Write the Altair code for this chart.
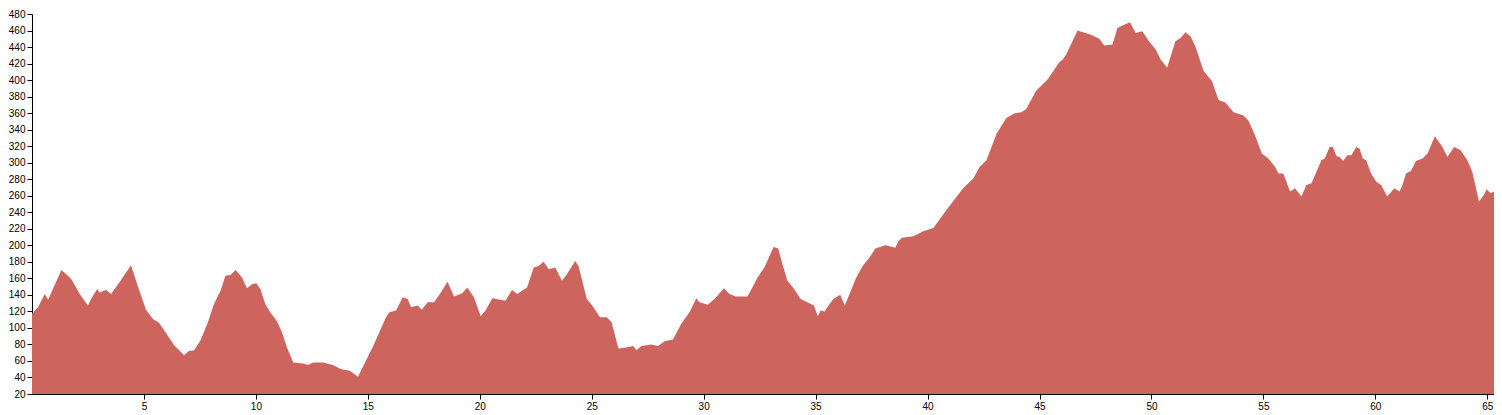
import altair as alt
import pandas as pd

km = [0.0, 0.27, 0.57, 0.72, 1.31, 1.53, 1.76, 2.13, 2.5, 2.64, 2.91, 3.01, 3.31, 3.53, 3.9, 4.42, 4.72,
      5.09, 5.39, 5.68, 6.05, 6.35, 6.64, 6.79, 7.01, 7.24, 7.53, 7.83, 8.13, 8.42, 8.64, 8.87, 9.09,
      9.38, 9.6, 9.83, 10.02, 10.2, 10.42, 10.64, 10.94, 11.16, 11.38, 11.67, 12.11, 12.33, 12.56, 13.0,
      13.44, 13.81, 14.19, 14.56, 14.85, 15.22, 15.52, 15.81, 15.96, 16.26, 16.56, 16.78, 16.93, 17.22,
      17.41, 17.67, 17.96, 18.26, 18.56, 18.7, 18.85, 19.22, 19.44, 19.74, 20.04, 20.26, 20.56, 21.15,
      21.44, 21.67, 22.11, 22.41, 22.63, 22.85, 23.08, 23.37, 23.67, 23.89, 24.26, 24.41, 24.78, 25.0,
      25.37, 25.67, 25.89, 26.19, 26.48, 26.85, 27.0, 27.22, 27.67, 27.96, 28.26, 28.63, 29.0, 29.37,
      29.67, 29.81, 30.19, 30.56, 30.9, 31.15, 31.44, 31.96, 32.41, 32.73, 33.12, 33.33, 33.52, 33.74,
      34.04, 34.33, 34.63, 34.92, 35.1, 35.22, 35.4, 35.6, 35.8, 36.1, 36.3, 36.5, 36.8, 37.1, 37.4,
      37.67, 38.11, 38.56, 38.7, 38.85, 39.37, 39.81, 40.26, 40.85, 41.59, 42.04, 42.33, 42.63, 43.08,
      43.52, 43.89, 44.19, 44.41, 44.85, 45.37, 45.89, 46.04, 46.19, 46.7, 47.3, 47.67, 47.89, 48.26,
      48.48, 48.78, 49.04, 49.3, 49.59, 49.89, 50.19, 50.41, 50.7, 51.07, 51.3, 51.52, 51.74, 51.96,
      52.33, 52.7, 53.0, 53.3, 53.67, 54.11, 54.33, 54.63, 54.93, 55.22, 55.52, 55.67, 55.89, 56.19,
      56.41, 56.7, 56.92, 57.15, 57.59, 57.74, 57.96, 58.1, 58.26, 58.41, 58.56, 58.75, 58.93, 59.15,
      59.3, 59.44, 59.59, 59.81, 60.04, 60.26, 60.53, 60.85, 61.08, 61.2, 61.37, 61.59, 61.81, 62.11,
      62.33, 62.66, 63.0, 63.22, 63.52, 63.81, 64.11, 64.33, 64.63, 64.85, 64.97, 65.15, 65.3]

elevation = [117, 125, 141, 134, 170, 165, 159, 141, 127, 135, 147, 143, 146, 141, 155, 176, 151,
             122, 111, 106, 91, 79, 71, 67, 72, 73, 85, 105, 129, 145, 163, 164, 170,
             161, 148, 153, 154, 147, 129, 119, 108, 95, 77, 58, 57, 55, 58, 58,
             55, 50, 48, 41, 57, 77, 95, 113, 119, 121, 137, 135, 125, 127,
             122, 131, 131, 143, 156, 147, 138, 142, 149, 137, 114, 121, 136, 133,
             146, 141, 149, 173, 175, 180, 171, 173, 157, 165, 181, 175, 135, 128,
             113, 113, 107, 75, 76, 78, 73, 78, 80, 78, 84, 86, 105, 119,
             136, 131, 128, 137, 148, 141, 138, 138, 161, 174, 198, 196, 177, 157,
             147, 135, 131, 127, 114, 121, 120, 128, 135, 140, 127, 140, 160, 175, 185,
             196, 200, 197, 205, 209, 211, 217, 221, 243, 269, 281, 295, 303, 335,
             354, 360, 361, 365, 387, 401, 422, 425, 431, 460, 455, 450, 442, 443,
             463, 467, 470, 457, 459, 447, 437, 425, 415, 447, 451, 458, 453, 441,
             411, 399, 376, 373, 361, 357, 351, 333, 311, 305, 295, 287, 287, 265,
             269, 259, 273, 275, 303, 305, 319, 319, 308, 307, 302, 309, 309, 319,
             317, 305, 303, 287, 277, 273, 259, 269, 265, 272, 287, 290, 302, 305,
             311, 332, 319, 307, 319, 315, 303, 289, 253, 261, 268, 263, 265]

x_ticks = [5, 10, 15, 20, 25, 30, 35, 40, 45, 50, 55, 60, 65]
y_ticks = list(range(20, 481, 20))

df = pd.DataFrame({"km": km, "elevation": elevation})

axis_style = dict(title=None, grid=False, tickSize=5, labelPadding=2,
                  domainColor="#000", tickColor="#000", labelColor="#000",
                  labelFontSize=10, labelFont="Liberation Sans",
                  domainWidth=1, labelFlush=False)

chart = alt.Chart(df).mark_area(color="#cd645d", interpolate="linear").encode(
    x=alt.X("km:Q",
            scale=alt.Scale(domain=[0, 65.3], nice=False, zero=False),
            axis=alt.Axis(values=x_ticks, **axis_style)),
    y=alt.Y("elevation:Q",
            scale=alt.Scale(domain=[20, 480], nice=False, zero=False),
            axis=alt.Axis(values=y_ticks, **axis_style)),
    y2=alt.datum(20),
).properties(
    width=1462,
    height=380,
    autosize=alt.AutoSizeParams(type="none"),
    padding={"left": 24, "top": 6, "right": 0, "bottom": 18},
).configure_view(stroke=None)

chart.save("out.html", embed_options={"renderer": "svg", "actions": False})
